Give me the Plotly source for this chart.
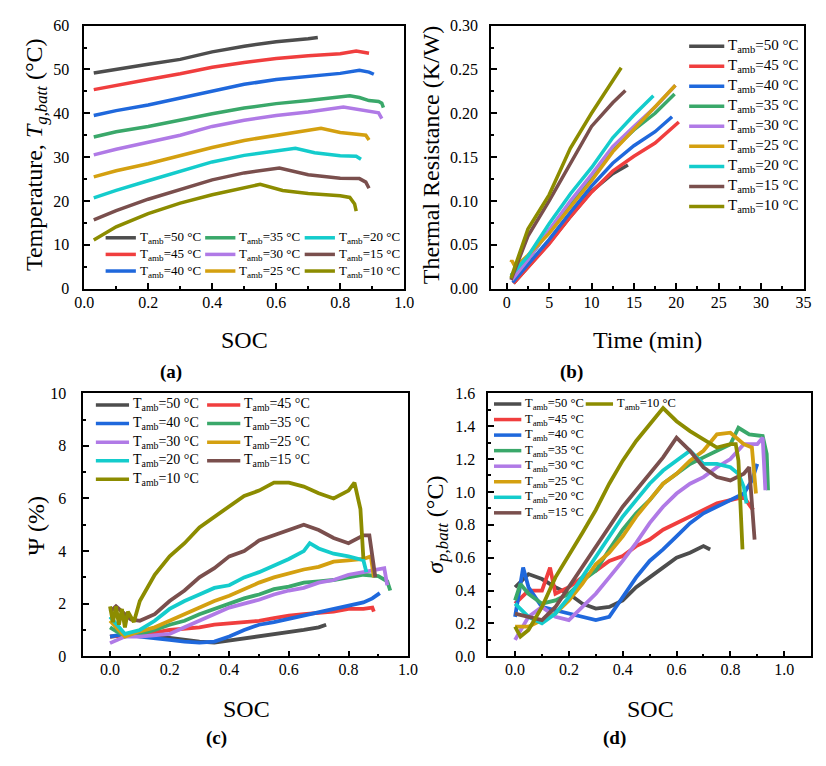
import plotly.graph_objects as go

# ---------------- data ----------------
TEMPS = [50, 45, 40, 35, 30, 25, 20, 15, 10]

# (a) battery temperature vs SOC
A_SOC_50 = [0.03, 0.1, 0.2, 0.3, 0.4, 0.5, 0.6, 0.7, 0.73]
A_T_50 = [49.2, 50.1, 51.2, 52.3, 54.0, 55.3, 56.3, 57.0, 57.3]
A_SOC_45 = [0.03, 0.1, 0.2, 0.3, 0.4, 0.5, 0.6, 0.7, 0.8, 0.85, 0.87, 0.89]
A_T_45 = [45.4, 46.4, 47.7, 49.0, 50.5, 51.6, 52.5, 53.1, 53.6, 54.2, 54.0, 53.7]
A_SOC_40 = [0.03, 0.1, 0.2, 0.3, 0.4, 0.5, 0.6, 0.7, 0.8, 0.86, 0.89, 0.905]
A_T_40 = [39.5, 40.6, 41.9, 43.4, 45.1, 46.6, 47.7, 48.4, 49.1, 49.8, 49.4, 48.9]
A_SOC_35 = [0.03, 0.1, 0.2, 0.3, 0.4, 0.5, 0.6, 0.7, 0.8, 0.83, 0.86, 0.89, 0.92, 0.93, 0.935]
A_T_35 = [34.6, 35.8, 37.0, 38.5, 39.9, 41.2, 42.2, 42.9, 43.6, 44.0, 43.6, 42.9, 42.7, 42.3, 41.3]
A_SOC_30 = [0.03, 0.1, 0.2, 0.3, 0.4, 0.5, 0.6, 0.7, 0.81, 0.85, 0.9, 0.92, 0.93]
A_T_30 = [30.5, 31.8, 33.4, 35.0, 37.0, 38.4, 39.5, 40.3, 41.4, 40.9, 40.3, 40.1, 38.8]
A_SOC_25 = [0.03, 0.1, 0.2, 0.3, 0.4, 0.5, 0.6, 0.7, 0.74, 0.8, 0.85, 0.88, 0.89]
A_T_25 = [25.5, 26.9, 28.5, 30.4, 32.2, 33.8, 35.0, 36.1, 36.6, 35.6, 35.2, 35.0, 33.9]
A_SOC_20 = [0.03, 0.1, 0.2, 0.3, 0.4, 0.5, 0.6, 0.66, 0.72, 0.8, 0.85, 0.865]
A_T_20 = [20.7, 22.4, 24.6, 26.7, 28.9, 30.4, 31.4, 32.0, 31.0, 30.3, 30.2, 29.5]
A_SOC_15 = [0.03, 0.1, 0.2, 0.3, 0.4, 0.5, 0.61, 0.7, 0.8, 0.86, 0.88, 0.89]
A_T_15 = [15.7, 17.8, 20.4, 22.6, 24.8, 26.4, 27.5, 26.0, 25.2, 25.1, 24.3, 22.9]
A_SOC_10 = [0.03, 0.1, 0.2, 0.3, 0.4, 0.5, 0.55, 0.62, 0.7, 0.8, 0.83, 0.845, 0.85]
A_T_10 = [11.1, 14.1, 17.1, 19.5, 21.4, 23.0, 23.8, 22.4, 21.7, 21.2, 20.8, 19.3, 17.7]

# (b) thermal resistance vs time
B_T_50 = [0.8, 2.5, 5, 7.5, 10, 12.5, 14.3]
B_R_50 = [0.006, 0.025, 0.052, 0.082, 0.111, 0.131, 0.141]
B_T_45 = [0.8, 2.5, 5, 7.5, 10, 12.5, 15, 17.5, 20.3]
B_R_45 = [0.006, 0.024, 0.051, 0.082, 0.110, 0.134, 0.151, 0.166, 0.19]
B_T_40 = [0.7, 2.5, 5, 7.5, 10, 12.5, 15, 17.5, 19.5]
B_R_40 = [0.007, 0.027, 0.056, 0.087, 0.117, 0.143, 0.163, 0.179, 0.196]
B_T_35 = [0.6, 2.5, 5, 7.5, 10, 12.5, 15, 17.5, 19.8]
B_R_35 = [0.01, 0.033, 0.066, 0.097, 0.128, 0.158, 0.181, 0.2, 0.222]
B_T_30 = [0.6, 2.5, 5, 7.5, 10, 12.5, 15, 17.5, 19.9]
B_R_30 = [0.01, 0.033, 0.067, 0.1, 0.13, 0.162, 0.185, 0.207, 0.232]
B_T_25 = [0.5, 0.6, 1, 2.5, 5, 7.5, 10, 12.5, 15, 17.5, 19.9]
B_R_25 = [0.03, 0.032, 0.025, 0.038, 0.063, 0.093, 0.123, 0.156, 0.182, 0.208, 0.232]
B_T_20 = [0.5, 2.5, 5, 7.5, 10, 12.5, 15, 17.3]
B_R_20 = [0.015, 0.037, 0.074, 0.108, 0.138, 0.172, 0.198, 0.22]
B_T_15 = [0.5, 2.5, 5, 7.5, 10, 12.5, 14]
B_R_15 = [0.01, 0.06, 0.10, 0.142, 0.185, 0.212, 0.226]
B_T_10 = [0.5, 2.5, 5, 7.5, 10, 12, 13.5]
B_R_10 = [0.012, 0.068, 0.107, 0.16, 0.2, 0.23, 0.252]

# (c) Psi vs SOC
C_SOC_50 = [0, 0.1, 0.2, 0.25, 0.3, 0.35, 0.4, 0.45, 0.5, 0.55, 0.6, 0.65, 0.7, 0.725]
C_V_50 = [0.75, 0.85, 0.7, 0.62, 0.56, 0.52, 0.6, 0.68, 0.75, 0.82, 0.93, 1.0, 1.1, 1.2]
C_SOC_45 = [0, 0.05, 0.1, 0.15, 0.2, 0.25, 0.3, 0.35, 0.4, 0.45, 0.5, 0.55, 0.6, 0.65, 0.7, 0.75, 0.8, 0.85, 0.88, 0.885]
C_V_45 = [0.75, 0.8, 0.85, 0.9, 1.0, 1.05, 1.1, 1.2, 1.25, 1.3, 1.35, 1.45, 1.55, 1.6, 1.65, 1.7, 1.8, 1.8, 1.85, 1.7]
C_SOC_40 = [0, 0.05, 0.1, 0.15, 0.2, 0.25, 0.3, 0.35, 0.4, 0.45, 0.5, 0.55, 0.6, 0.65, 0.7, 0.75, 0.8, 0.85, 0.88, 0.9, 0.905]
C_V_40 = [0.75, 0.85, 0.75, 0.7, 0.62, 0.56, 0.52, 0.56, 0.75, 1.0, 1.2, 1.3, 1.43, 1.55, 1.67, 1.8, 1.92, 2.05, 2.2, 2.35, 2.4]
C_SOC_35 = [0, 0.05, 0.1, 0.15, 0.2, 0.25, 0.3, 0.35, 0.4, 0.45, 0.5, 0.55, 0.6, 0.65, 0.7, 0.75, 0.8, 0.85, 0.9, 0.93, 0.94]
C_V_35 = [1.1, 0.75, 0.85, 1.0, 1.2, 1.35, 1.6, 1.8, 2.0, 2.2, 2.35, 2.55, 2.65, 2.8, 2.85, 2.9, 3.0, 3.1, 3.05, 2.85, 2.5]
C_SOC_30 = [0, 0.05, 0.1, 0.15, 0.2, 0.25, 0.3, 0.35, 0.4, 0.45, 0.5, 0.55, 0.6, 0.65, 0.7, 0.75, 0.8, 0.85, 0.9, 0.92, 0.93]
C_V_30 = [0.5, 0.75, 0.75, 0.8, 0.85, 1.1, 1.35, 1.6, 1.85, 2.0, 2.15, 2.35, 2.5, 2.6, 2.8, 2.9, 3.1, 3.2, 3.3, 3.35, 2.7]
C_SOC_25 = [0, 0.05, 0.1, 0.15, 0.2, 0.25, 0.3, 0.35, 0.4, 0.45, 0.5, 0.55, 0.6, 0.65, 0.7, 0.75, 0.8, 0.85, 0.875, 0.885]
C_V_25 = [1.35, 0.75, 0.95, 1.1, 1.35, 1.6, 1.85, 2.1, 2.3, 2.55, 2.8, 3.0, 3.15, 3.3, 3.4, 3.6, 3.65, 3.7, 3.8, 3.0]
C_SOC_20 = [0, 0.05, 0.1, 0.15, 0.2, 0.25, 0.3, 0.35, 0.4, 0.45, 0.5, 0.55, 0.6, 0.65, 0.67, 0.7, 0.75, 0.8, 0.85, 0.86]
C_V_20 = [1.5, 0.85, 1.0, 1.35, 1.8, 2.1, 2.35, 2.6, 2.7, 3.0, 3.2, 3.45, 3.7, 4.0, 4.3, 4.1, 3.9, 3.8, 3.65, 3.2]
C_SOC_15 = [0, 0.02, 0.05, 0.07, 0.1, 0.15, 0.2, 0.25, 0.3, 0.35, 0.4, 0.45, 0.5, 0.55, 0.6, 0.65, 0.7, 0.75, 0.8, 0.85, 0.87, 0.88, 0.89]
C_V_15 = [1.7, 1.9, 1.6, 1.4, 1.35, 1.6, 2.1, 2.5, 3.0, 3.35, 3.8, 4.0, 4.4, 4.6, 4.8, 5.0, 4.8, 4.5, 4.3, 4.6, 4.6, 3.7, 3.0]
C_SOC_10 = [0, 0.01, 0.02, 0.03, 0.04, 0.05, 0.06, 0.08, 0.1, 0.15, 0.2, 0.25, 0.3, 0.35, 0.4, 0.45, 0.5, 0.55, 0.6, 0.65, 0.7, 0.75, 0.8, 0.82, 0.84, 0.85]
C_V_10 = [1.9, 1.3, 1.9, 1.2, 1.8, 1.1, 1.7, 1.3, 2.1, 3.1, 3.8, 4.3, 4.9, 5.3, 5.7, 6.1, 6.3, 6.6, 6.6, 6.45, 6.2, 6.0, 6.3, 6.6, 5.6, 3.7]

# (d) sigma vs SOC
D_SOC_50 = [0, 0.05, 0.1, 0.15, 0.2, 0.25, 0.3, 0.35, 0.4, 0.45, 0.5, 0.55, 0.6, 0.65, 0.7, 0.725]
D_V_50 = [0.42, 0.5, 0.47, 0.42, 0.38, 0.32, 0.29, 0.3, 0.34, 0.42, 0.48, 0.54, 0.6, 0.63, 0.67, 0.65]
D_SOC_45 = [0, 0.05, 0.1, 0.13, 0.15, 0.2, 0.25, 0.3, 0.35, 0.4, 0.45, 0.5, 0.55, 0.6, 0.65, 0.7, 0.75, 0.8, 0.85, 0.875, 0.885]
D_V_45 = [0.32, 0.4, 0.4, 0.54, 0.38, 0.42, 0.48, 0.52, 0.58, 0.61, 0.67, 0.71, 0.77, 0.81, 0.85, 0.89, 0.93, 0.95, 0.97, 0.91, 0.89]
D_SOC_40 = [0, 0.03, 0.05, 0.1, 0.15, 0.2, 0.25, 0.3, 0.35, 0.4, 0.45, 0.5, 0.55, 0.6, 0.65, 0.7, 0.75, 0.8, 0.85, 0.88, 0.9]
D_V_40 = [0.24, 0.54, 0.42, 0.3, 0.28, 0.26, 0.24, 0.22, 0.24, 0.36, 0.48, 0.58, 0.65, 0.73, 0.81, 0.87, 0.91, 0.95, 0.99, 1.07, 1.17]
D_SOC_35 = [0, 0.02, 0.05, 0.1, 0.15, 0.2, 0.25, 0.3, 0.35, 0.4, 0.45, 0.5, 0.55, 0.6, 0.65, 0.7, 0.75, 0.8, 0.83, 0.87, 0.92, 0.935, 0.94]
D_V_35 = [0.34, 0.44, 0.38, 0.32, 0.34, 0.38, 0.46, 0.52, 0.65, 0.77, 0.87, 0.95, 1.05, 1.11, 1.17, 1.21, 1.25, 1.29, 1.39, 1.35, 1.34, 1.23, 1.01]
D_SOC_30 = [0, 0.05, 0.1, 0.15, 0.2, 0.25, 0.3, 0.35, 0.4, 0.45, 0.5, 0.55, 0.6, 0.65, 0.7, 0.75, 0.8, 0.85, 0.9, 0.92, 0.93]
D_V_30 = [0.1, 0.24, 0.3, 0.24, 0.22, 0.3, 0.38, 0.48, 0.58, 0.69, 0.81, 0.91, 0.99, 1.05, 1.09, 1.15, 1.2, 1.29, 1.29, 1.33, 1.01]
D_SOC_25 = [0, 0.05, 0.1, 0.15, 0.2, 0.25, 0.3, 0.35, 0.4, 0.45, 0.5, 0.55, 0.6, 0.65, 0.7, 0.75, 0.8, 0.85, 0.88, 0.89, 0.895]
D_V_25 = [0.18, 0.18, 0.22, 0.26, 0.34, 0.44, 0.56, 0.63, 0.73, 0.85, 0.95, 1.05, 1.11, 1.19, 1.25, 1.35, 1.36, 1.29, 1.27, 1.09, 0.99]
D_SOC_20 = [0, 0.05, 0.1, 0.15, 0.2, 0.25, 0.3, 0.35, 0.4, 0.45, 0.5, 0.55, 0.6, 0.65, 0.7, 0.75, 0.8, 0.83, 0.85, 0.86]
D_V_20 = [0.32, 0.24, 0.2, 0.26, 0.36, 0.48, 0.61, 0.73, 0.85, 0.95, 1.05, 1.13, 1.19, 1.25, 1.17, 1.17, 1.15, 1.11, 1.03, 0.93]
D_SOC_15 = [0, 0.05, 0.1, 0.15, 0.2, 0.25, 0.3, 0.35, 0.4, 0.45, 0.5, 0.55, 0.6, 0.65, 0.7, 0.75, 0.8, 0.85, 0.87, 0.88, 0.89]
D_V_15 = [0.26, 0.24, 0.22, 0.3, 0.42, 0.54, 0.67, 0.79, 0.91, 1.01, 1.11, 1.21, 1.33, 1.25, 1.15, 1.09, 1.07, 1.11, 1.15, 0.93, 0.71]
D_SOC_10 = [0, 0.02, 0.05, 0.1, 0.15, 0.2, 0.25, 0.3, 0.35, 0.4, 0.45, 0.5, 0.55, 0.6, 0.65, 0.7, 0.75, 0.8, 0.82, 0.83, 0.84, 0.845]
D_V_10 = [0.18, 0.12, 0.16, 0.3, 0.48, 0.61, 0.75, 0.89, 1.05, 1.19, 1.31, 1.41, 1.51, 1.43, 1.37, 1.32, 1.27, 1.29, 1.29, 1.19, 0.89, 0.65]

# ---------------- styling ----------------
W, H = 826, 766
FONT = "Liberation Serif"
COLORS = {50: "#4d4d4d", 45: "#f03e3e", 40: "#1f68dc", 35: "#3aa86a", 30: "#b07ae6",
          25: "#d4a010", 20: "#14cccc", 15: "#7a4f4d", 10: "#8c8c00"}

A_X = {50: A_SOC_50, 45: A_SOC_45, 40: A_SOC_40, 35: A_SOC_35, 30: A_SOC_30, 25: A_SOC_25, 20: A_SOC_20, 15: A_SOC_15, 10: A_SOC_10}
A_Y = {50: A_T_50, 45: A_T_45, 40: A_T_40, 35: A_T_35, 30: A_T_30, 25: A_T_25, 20: A_T_20, 15: A_T_15, 10: A_T_10}
B_X = {50: B_T_50, 45: B_T_45, 40: B_T_40, 35: B_T_35, 30: B_T_30, 25: B_T_25, 20: B_T_20, 15: B_T_15, 10: B_T_10}
B_Y = {50: B_R_50, 45: B_R_45, 40: B_R_40, 35: B_R_35, 30: B_R_30, 25: B_R_25, 20: B_R_20, 15: B_R_15, 10: B_R_10}
C_X = {50: C_SOC_50, 45: C_SOC_45, 40: C_SOC_40, 35: C_SOC_35, 30: C_SOC_30, 25: C_SOC_25, 20: C_SOC_20, 15: C_SOC_15, 10: C_SOC_10}
C_Y = {50: C_V_50, 45: C_V_45, 40: C_V_40, 35: C_V_35, 30: C_V_30, 25: C_V_25, 20: C_V_20, 15: C_V_15, 10: C_V_10}
D_X = {50: D_SOC_50, 45: D_SOC_45, 40: D_SOC_40, 35: D_SOC_35, 30: D_SOC_30, 25: D_SOC_25, 20: D_SOC_20, 15: D_SOC_15, 10: D_SOC_10}
D_Y = {50: D_V_50, 45: D_V_45, 40: D_V_40, 35: D_V_35, 30: D_V_30, 25: D_V_25, 20: D_V_20, 15: D_V_15, 10: D_V_10}


def px(x):
    return x / W


def py(y):
    return 1 - y / H


fig = go.Figure()

panels = [
    ("x", "y", A_X, A_Y, 3.5),
    ("x2", "y2", B_X, B_Y, 3.5),
    ("x3", "y3", C_X, C_Y, 3.8),
    ("x4", "y4", D_X, D_Y, 3.8),
]
for xa, ya, XS, YS, lw in panels:
    for t in TEMPS:
        fig.add_trace(go.Scatter(
            x=XS[t], y=YS[t], mode="lines", xaxis=xa, yaxis=ya,
            name=f"T<sub>amb</sub>={t} °C", showlegend=False,
            line=dict(color=COLORS[t], width=lw), hoverinfo="skip"))


def axis(domain, rng, dtick, mdtick, fmt, anchor, standoff):
    return dict(
        domain=domain, range=rng, dtick=dtick, tick0=0, tickformat=fmt, anchor=anchor,
        showline=True, linecolor="black", linewidth=1.5, mirror=True,
        ticks="inside", ticklen=6, tickwidth=1.5, tickcolor="black",
        showgrid=False, zeroline=False, ticklabelstandoff=standoff,
        tickfont=dict(family=FONT, size=16, color="black"),
        minor=dict(dtick=mdtick, tick0=0, ticks="inside", ticklen=3, tickwidth=1.5,
                   tickcolor="black", showgrid=False),
    )


yA = [py(287), py(18)]
yC = [py(663), py(394)]
fig.update_layout(
    width=W, height=H, autosize=False,
    margin=dict(l=0, r=0, t=0, b=0),
    paper_bgcolor="white", plot_bgcolor="white", showlegend=False,
    font=dict(family=FONT, color="black"),
    xaxis=axis([px(76), px(404)], [0, 1.0], 0.2, 0.1, ".1f", "y", -2),
    yaxis=axis(yA, [0, 60], 10, 5, "d", "x", 10),
    xaxis2=axis([px(493), px(814)], [-1.85, 35.1], 5, 2.5, "d", "y2", -2),
    yaxis2=axis(yA, [0, 0.30], 0.05, 0.025, ".2f", "x2", 8),
    xaxis3=axis([px(75), px(408)], [-0.09, 1.0], 0.2, 0.1, ".1f", "y3", -2),
    yaxis3=axis(yC, [0, 10], 2, 1, "d", "x3", 12),
    xaxis4=axis([px(490), px(821)], [-0.1, 1.1], 0.2, 0.1, ".1f", "y4", -2),
    yaxis4=axis(yC, [0, 1.6], 0.2, 0.1, ".1f", "x4", 8),
)


def text(x, y, s, size, angle=0, bold=False):
    fig.add_annotation(
        xref="paper", yref="paper", x=px(x), y=py(y), text=(f"<b>{s}</b>" if bold else s),
        showarrow=False, xanchor="center", yanchor="middle", textangle=angle,
        font=dict(family=FONT, size=size, color="black"))


# axis titles and panel labels
text(26, 150, "Temperature, <i>T</i><sub><i>g,batt</i></sub> (°C)", 24, -90)
text(240, 340, "SOC", 24)
text(165, 372, "(a)", 19, bold=True)
text(431, 150, "Thermal Resistance (K/W)", 24, -90)
text(653, 340, "Time (min)", 24)
text(575, 372, "(b)", 19, bold=True)
text(27, 529, "Ψ (%)", 24, -90)
text(242, 717, "SOC", 24)
text(212, 747, "(c)", 19, bold=True)
text(438, 528, "<i>σ</i><sub><i>p,batt</i></sub> (°C)", 24, -90)
text(656, 717, "SOC", 24)
text(620, 747, "(d)", 19, bold=True)


def legend(temps, x_line, y0, dy, length, size, lw=3.5):
    for i, t in enumerate(temps):
        y = y0 + i * dy
        fig.add_shape(type="line", xref="paper", yref="paper",
                      x0=px(x_line), x1=px(x_line + length), y0=py(y), y1=py(y),
                      line=dict(color=COLORS[t], width=lw))
        fig.add_annotation(xref="paper", yref="paper", x=px(x_line + length + 2), y=py(y),
                           text=f"T<sub>amb</sub>={t} °C", showarrow=False,
                           xanchor="left", yanchor="middle",
                           font=dict(family=FONT, size=size, color="black"))


legend([50, 45, 40], 98, 235, 17, 31, 13)
legend([35, 30, 25], 200, 235, 17, 31, 13)
legend([20, 15, 10], 302, 235, 17, 31, 13)
legend(TEMPS, 696, 39, 20.5, 36, 15)
legend([50, 40, 30, 20, 10], 88, 406, 19, 34, 14)
legend([45, 35, 25, 15], 202, 406, 19, 34, 14)
legend([50, 45, 40, 35, 30, 25, 20, 15], 496, 405, 15.9, 28, 12.5)
legend([10], 590, 405, 15.9, 28, 12.5)

fig.write_html("out.html")
